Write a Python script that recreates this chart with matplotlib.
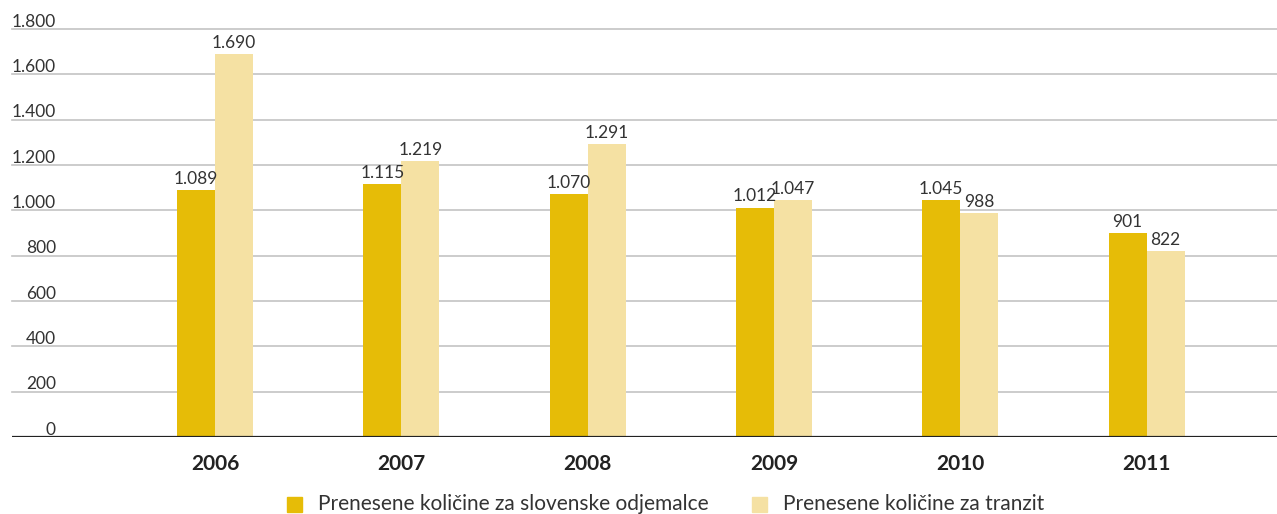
import numpy as np
import matplotlib
matplotlib.use("Agg")
from matplotlib import pyplot as plt
from matplotlib.patches import Rectangle
import matplotlib.transforms as mtransforms

years = ["2006", "2007", "2008", "2009", "2010", "2011"]
slovenski = [1089, 1115, 1070, 1012, 1045, 901]
tranzit = [1690, 1219, 1291, 1047, 988, 822]
yticks = [0, 200, 400, 600, 800, 1000, 1200, 1400, 1600, 1800]
legend_labels = ["Prenesene količine za slovenske odjemalce", "Prenesene količine za tranzit"]

dark = "#E6BC07"
light = "#F5E1A3"
txt = "#333333"

plt.rcParams['font.family'] = ['Lato', 'DejaVu Sans']

def fmt(v):
    return f"{v:,}".replace(",", ".")

fig = plt.figure(figsize=(12.77, 5.14), dpi=100)
ax = fig.add_axes([12 / 1277, 77 / 514, 1 - 12 / 1277, (437 - 29) / 514])

x = np.arange(len(years))
w = 0.204
b1 = ax.bar(x - w / 2, slovenski, w, color=dark, zorder=3)
b2 = ax.bar(x + w / 2, tranzit, w, color=light, zorder=3)

for bars, vals in ((b1, slovenski), (b2, tranzit)):
    for r, v in zip(bars, vals):
        ax.text(r.get_x() + r.get_width() / 2, v + 27, fmt(v), ha="center", va="baseline",
                fontsize=12.5, color=txt)

ax.set_xlim(-1.09, 5.70)
ax.set_ylim(0, 1800)
for t in yticks[1:]:
    ax.axhline(t, color="#c4c4c4", lw=1.2, zorder=1, clip_on=False)
ax.axhline(0, color="#222222", lw=1.6, zorder=4)

trans = mtransforms.blended_transform_factory(fig.transFigure, ax.transData)
for t in yticks:
    ax.text(56 / 1277, t + 10, fmt(t), transform=trans, ha="right", va="baseline",
            fontsize=12.5, color=txt)

for xi, y in zip(x, years):
    ax.text(xi, -0.065, y, transform=ax.get_xaxis_transform(), ha="center", va="center",
            fontsize=15, fontweight="bold", color="#222222")

ax.set_xticks([])
ax.set_yticks([])
for s in ax.spines.values():
    s.set_visible(False)

# legend drawn by hand
for lx, tx, c, lab in ((287, 318, dark, legend_labels[0]), (752, 783, light, legend_labels[1])):
    fig.patches.append(Rectangle((lx / 1277, 2 / 514), 15 / 1277, 15 / 514,
                                 transform=fig.transFigure, color=c))
    fig.text(tx / 1277, 10 / 514, lab, ha="left", va="center", fontsize=15, color=txt)

fig.savefig("out.png", dpi=100)
